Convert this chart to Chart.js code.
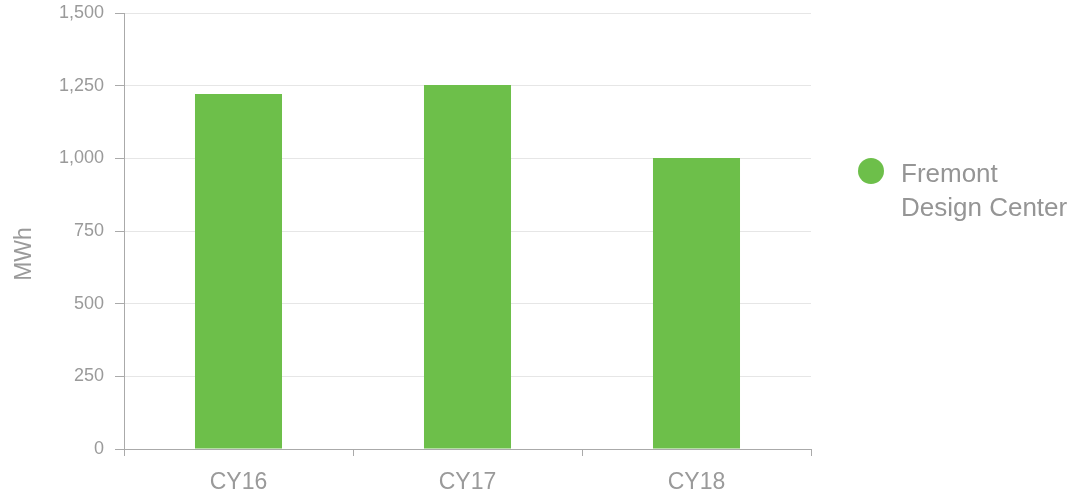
<!DOCTYPE html>
<html>
<head>
<meta charset="utf-8">
<script src="https://cdn.jsdelivr.net/npm/chart.js@4.4.0/dist/chart.umd.min.js"></script>
<style>
  html, body { margin: 0; padding: 0; background: #fff; }
  #wrap { position: relative; width: 1091px; height: 496px; }
  #legend {
    position: absolute; left: 858px; top: 156px;
    font-family: "Liberation Sans", Arial, sans-serif;
    font-size: 26px; line-height: 34px; color: #959595;
  }
  #legend .dot {
    position: absolute; left: 0; top: 2px; width: 26px; height: 26px;
    border-radius: 50%; background: #6dbf4a;
  }
  #legend .txt { margin-left: 43px; }
</style>
</head>
<body>
<div id="wrap">
  <canvas id="grafica" width="1091" height="496"></canvas>
  <div id="legend"><span class="dot"></span><div class="txt">Fremont<br>Design Center</div></div>
</div>
<script>
// Datos del gráfico
const categorias = ['CY16', 'CY17', 'CY18'];
const serieNombre = 'Fremont Design Center';
const valores = [1221, 1252, 1001];
const ticksY = [0, 250, 500, 750, 1000, 1250, 1500];
const tituloY = 'MWh';

const verde = '#6dbf4a';
const gris = '#9a9a9a';

// Título del eje Y dibujado a mano (posición como en la referencia)
const tituloEjeY = {
    id: 'tituloEjeY',
    afterDraw(chart) {
        const ctx = chart.ctx;
        ctx.save();
        ctx.translate(25, 254);
        ctx.rotate(-Math.PI / 2);
        ctx.font = '23px "Liberation Sans"';
        ctx.fillStyle = gris;
        ctx.textAlign = 'center';
        ctx.textBaseline = 'middle';
        ctx.fillText(tituloY, 0, 0);
        ctx.restore();
    }
};

new Chart(document.getElementById('grafica'), {
    type: 'bar',
    data: {
        labels: categorias,
        datasets: [{
            label: serieNombre,
            data: valores,
            backgroundColor: verde,
            borderWidth: 0,
            categoryPercentage: 0.38,
            barPercentage: 1
        }]
    },
    options: {
        responsive: false,
        animation: false,
        layout: { padding: { top: 13, right: 280, left: 0, bottom: 0 } },
        plugins: { legend: { display: false }, tooltip: { enabled: false } },
        scales: {
            x: {
                grid: { offset: true, drawOnChartArea: false, tickLength: 7, color: '#aaaaaa' },
                border: { color: '#aaaaaa' },
                ticks: { color: gris, font: { family: 'Liberation Sans', size: 23 }, padding: 13 },
                afterFit: s => { s.height = 47; }
            },
            y: {
                min: 0, max: 1500,
                afterBuildTicks: s => { s.ticks = ticksY.map(v => ({ value: v })); },
                grid: { color: '#e6e6e6', tickColor: '#aaaaaa', tickLength: 9 },
                border: { color: '#aaaaaa' },
                ticks: {
                    color: gris, font: { family: 'Liberation Sans', size: 18 }, padding: 11,
                    callback: v => v.toLocaleString('en-US')
                },
                afterFit: s => { s.width = 124; s.paddingTop = 0; s.paddingBottom = 0; }
            }
        }
    },
    plugins: [tituloEjeY]
});
</script>
</body>
</html>
